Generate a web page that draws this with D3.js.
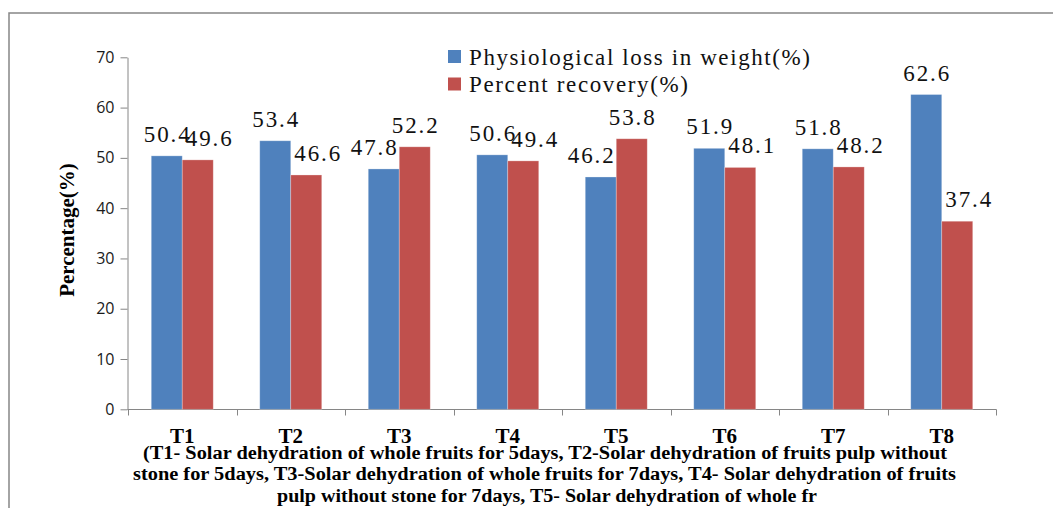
<!DOCTYPE html>
<html><head><meta charset="utf-8">
<script src="https://cdn.jsdelivr.net/npm/d3@7"></script>
<style>body{margin:0;background:#fff}svg{display:block}</style>
</head><body>
<svg id="c" width="1053" height="508"></svg>
<script>
const categories = ["T1","T2","T3","T4","T5","T6","T7","T8"];
const seriesNames = ["Physiological loss in weight(%)","Percent recovery(%)"];
const plw = [50.4,53.4,47.8,50.6,46.2,51.9,51.8,62.6];
const recovery = [49.6,46.6,52.2,49.4,53.8,48.1,48.2,37.4];
const yTicks = [0,10,20,30,40,50,60,70];
const yTitle = "Percentage(%)";
const captionLines = [
  "(T1- Solar dehydration of whole fruits for 5days, T2-Solar dehydration of fruits pulp without",
  "stone for 5days, T3-Solar dehydration of whole fruits for 7days, T4- Solar dehydration of fruits",
  "pulp without stone for 7days, T5- Solar dehydration of whole fr"
];
const colors = ["#4F81BD","#C0504D"];

const SERIF = '"Liberation Serif"';
const SANS = '"Open Sans"';
const svg = d3.select("#c");

// outer border
svg.append("rect").attr("x",9).attr("y",13).attr("width",1100).attr("height",600)
  .attr("fill","none").attr("stroke","#868686").attr("stroke-width",1.5);

const x0 = d3.scaleBand().domain(categories).range([128,996]);
const bw = x0.bandwidth();
const x1 = d3.scaleBand().domain(seriesNames).range([bw*0.2143, bw*0.7857]);
const y = d3.scaleLinear().domain([0,70]).range([409.3,57.3]);

// y axis
const ya = svg.append("g").attr("transform","translate(127.5,0)")
  .call(d3.axisLeft(y).tickValues(yTicks).tickSize(7).tickPadding(6).tickSizeOuter(0));
ya.select(".domain").attr("stroke","#868686");
ya.selectAll(".tick line").attr("stroke","#868686");
ya.selectAll("text").style("font-family",SANS).style("font-size","16px").attr("fill","#1a1a1a");

// x axis
const xa = svg.append("g").attr("transform","translate(0,409.5)")
  .call(d3.axisBottom(x0).tickSize(0).tickFormat(""));
xa.select(".domain").attr("stroke","#868686").attr("d","M127.5,0H996.5");
const bounds = categories.map(c=>x0(c)).concat([996]);
xa.selectAll(".bt").data(bounds).enter().append("line").attr("class","bt")
  .attr("x1",d=>Math.round(d)+0.5).attr("x2",d=>Math.round(d)+0.5).attr("y1",0).attr("y2",6)
  .attr("stroke","#868686");

// bars
const rows = categories.map((c,i)=>({c, vals:[plw[i],recovery[i]]}));
const g = svg.append("g");
rows.forEach(r=>{
  const low = r.vals[0] < r.vals[1] ? 0 : 1;
  r.vals.forEach((v,j)=>{
    const xb = x0(r.c)+x1(seriesNames[j]);
    g.append("rect").attr("x",xb).attr("y",y(v)).attr("width",x1.bandwidth()).attr("height",y(0)-y(v))
      .attr("fill",colors[j]).attr("stroke","#fff").attr("stroke-opacity",0.35).attr("stroke-width",0.8);
    const shift = (j===low) ? (j===0 ? -10 : 11) : 0;
    g.append("text").attr("x",xb+x1.bandwidth()/2+shift).attr("y",y(v)-14)
      .attr("text-anchor","middle").style("font-family",SERIF).style("font-size","23px")
      .attr("textLength",46).attr("lengthAdjust","spacing")
      .attr("fill","#111").text(v.toFixed(1));
  });
});

// category labels
svg.selectAll(".cl").data(categories).enter().append("text").attr("class","cl")
  .attr("x",d=>x0(d)+bw/2).attr("y",443).attr("text-anchor","middle")
  .style("font-family",SERIF).style("font-weight","bold").style("font-size","21px").attr("fill","#000").text(d=>d);

// caption
const capY = [458.5,480,501.5];
const capX = [[143,947],[133,956],[277,817]];
captionLines.forEach((t,i)=>{
  svg.append("text").attr("x",(capX[i][0]+capX[i][1])/2).attr("y",capY[i]).attr("text-anchor","middle")
    .style("font-family",SERIF).style("font-weight","bold").style("font-size","18px")
    .attr("textLength",capX[i][1]-capX[i][0]).attr("lengthAdjust","spacingAndGlyphs")
    .attr("fill","#000").text(t);
});

// y title
svg.append("text").attr("transform","translate(74,230) rotate(-90)").attr("text-anchor","middle")
  .style("font-family",SERIF).style("font-weight","bold").style("font-size","21px").attr("fill","#000").text(yTitle);

// legend
const lg = svg.append("g");
const legW = [341,219];
seriesNames.forEach((s,i)=>{
  lg.append("rect").attr("x",448).attr("y",50+i*27.5).attr("width",13).attr("height",13).attr("fill",colors[i]);
  lg.append("text").attr("x",469).attr("y",65+i*27).style("font-family",SERIF).style("font-size","23px")
    .attr("textLength",legW[i]).attr("lengthAdjust","spacing").attr("fill","#111").text(s);
});
</script>
</body></html>
